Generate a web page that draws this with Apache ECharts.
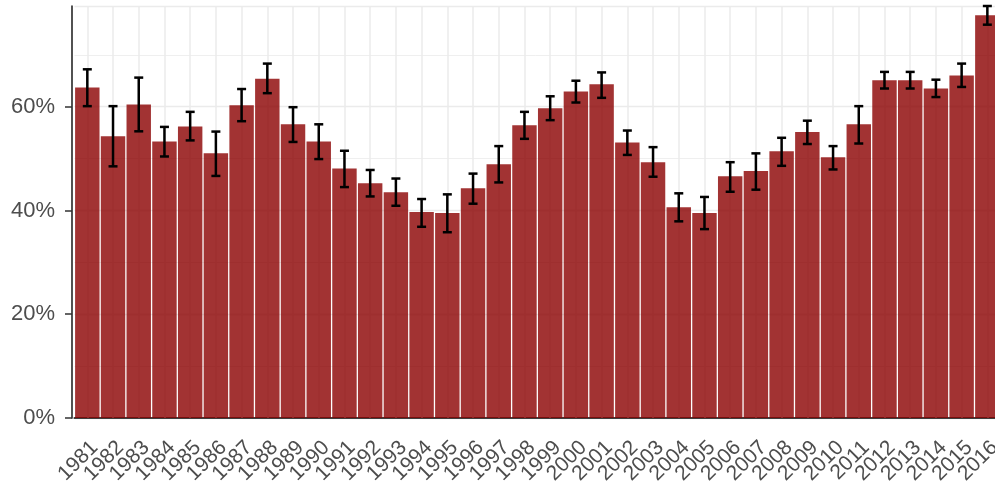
<!DOCTYPE html>
<html>
<head>
<meta charset="utf-8">
<script src="https://cdn.jsdelivr.net/npm/echarts@6/dist/echarts.min.js"></script>
<style>
  html, body { margin: 0; padding: 0; background: #fff; }
  #chart { width: 995px; height: 483px; }
</style>
</head>
<body>
<div id="chart"></div>
<script>
const years = ['1981', '1982', '1983', '1984', '1985', '1986', '1987', '1988', '1989', '1990',
  '1991', '1992', '1993', '1994', '1995', '1996', '1997', '1998', '1999', '2000',
  '2001', '2002', '2003', '2004', '2005', '2006', '2007', '2008', '2009', '2010',
  '2011', '2012', '2013', '2014', '2015', '2016'];

// share in %
const shares = [63.7, 54.3, 60.4, 53.3, 56.2, 51.0, 60.25, 65.4, 56.6, 53.3,
  48.1, 45.25, 43.5, 39.7, 39.5, 44.3, 48.9, 56.4, 59.7, 62.9,
  64.3, 53.1, 49.3, 40.6, 39.5, 46.6, 47.6, 51.4, 55.1, 50.25,
  56.6, 65.1, 65.1, 63.5, 66.0, 77.6];

// error bar ends
const lows = [60.1, 48.5, 55.25, 50.4, 53.5, 46.65, 57.2, 62.6, 53.2, 49.9,
  44.5, 42.7, 40.9, 36.85, 35.8, 41.3, 45.4, 53.8, 57.4, 60.8,
  61.7, 50.7, 46.5, 37.9, 36.4, 43.6, 44.0, 48.6, 52.8, 47.9,
  52.9, 63.5, 63.5, 61.85, 63.8, 75.8];
const highs = [67.2, 60.1, 65.6, 56.1, 59.0, 55.2, 63.4, 68.3, 59.9, 56.6,
  51.5, 47.8, 46.15, 42.2, 43.1, 47.1, 52.4, 59.0, 62.0, 65.0,
  66.6, 55.4, 52.2, 43.3, 42.6, 49.3, 51.0, 54.0, 57.3, 52.4,
  60.1, 66.7, 66.7, 65.2, 68.3, 79.4];

const yMax = 79.4;
const gridCol = '#ebebeb';
const textCol = '#4d4d4d';
const font = '"Liberation Sans", Arial, sans-serif';

const chart = echarts.init(document.getElementById('chart'));

const option = {
  animation: false,
  grid: {
    left: 74.45,
    right: -5.2,   // panel runs a bit past the right edge
    top: 6,
    bottom: 65,
    outerBoundsMode: 'none'
  },
  xAxis: [{
    type: 'category',
    data: years,
    boundaryGap: true,
    axisLine: { lineStyle: { color: '#333', width: 1.7 } },
    axisTick: { alignWithLabel: true, length: 7, lineStyle: { color: '#333', width: 1.5 } },
    axisLabel: {
      rotate: 45,
      interval: 0,
      margin: 19,
      align: 'right',
      verticalAlign: 'top',
      color: textCol,
      fontSize: 21,
      fontFamily: font
    },
    splitLine: { show: false }
  }, {
    // top border of the panel
    type: 'category',
    data: years,
    position: 'top',
    axisLine: { lineStyle: { color: '#333', width: 1.7 } },
    axisTick: { show: false },
    axisLabel: { show: false },
    splitLine: { show: false }
  }],
  yAxis: [{
    type: 'value',
    min: 0,
    max: yMax,
    interval: 20,
    offset: 2.45,
    axisLine: { show: true, lineStyle: { color: '#333', width: 1.7 } },
    axisTick: { show: true, length: 7, lineStyle: { color: '#333', width: 1.5 } },
    axisLabel: {
      margin: 17,
      color: textCol,
      fontSize: 22,
      fontFamily: font,
      showMaxLabel: false,
      formatter: '{value}%'
    },
    splitLine: { lineStyle: { color: gridCol, width: 1.4 } }
  }, {
    // minor grid lines at 10, 30, 50, 70
    type: 'value',
    min: 0,
    max: yMax,
    interval: 10,
    position: 'left',
    axisLine: { show: false },
    axisTick: { show: false },
    axisLabel: { show: false },
    splitLine: { lineStyle: { color: ['rgba(0,0,0,0)', gridCol], width: 0.8 } }
  }],
  series: [
    {
      // vertical grid lines at each year
      type: 'line',
      data: [],
      z: 1,
      silent: true,
      markLine: {
        silent: true,
        z: 1,
        symbol: 'none',
        label: { show: false },
        lineStyle: { color: gridCol, width: 1.5, type: 'solid' },
        data: years.map(y => ({ xAxis: y }))
      }
    },
    {
      name: 'share',
      type: 'bar',
      data: shares,
      barWidth: '95%',
      z: 2,
      itemStyle: { color: 'rgba(139,0,0,0.8)' }
    },
    {
      name: 'error',
      type: 'custom',
      z: 3,
      data: years.map((y, i) => [i, lows[i], highs[i]]),
      encode: { x: 0, y: [1, 2] },
      renderItem: (params, api) => {
        const i = api.value(0);
        const lo = api.coord([i, api.value(1)]);
        const hi = api.coord([i, api.value(2)]);
        const cap = 4.5;
        const st = { stroke: '#000', lineWidth: 2.5 };
        return {
          type: 'group',
          children: [
            { type: 'line', shape: { x1: lo[0], y1: lo[1], x2: hi[0], y2: hi[1] }, style: st },
            { type: 'line', shape: { x1: hi[0] - cap, y1: hi[1], x2: hi[0] + cap, y2: hi[1] }, style: st },
            { type: 'line', shape: { x1: lo[0] - cap, y1: lo[1], x2: lo[0] + cap, y2: lo[1] }, style: st }
          ]
        };
      }
    }
  ]
};

chart.setOption(option);
</script>
</body>
</html>
